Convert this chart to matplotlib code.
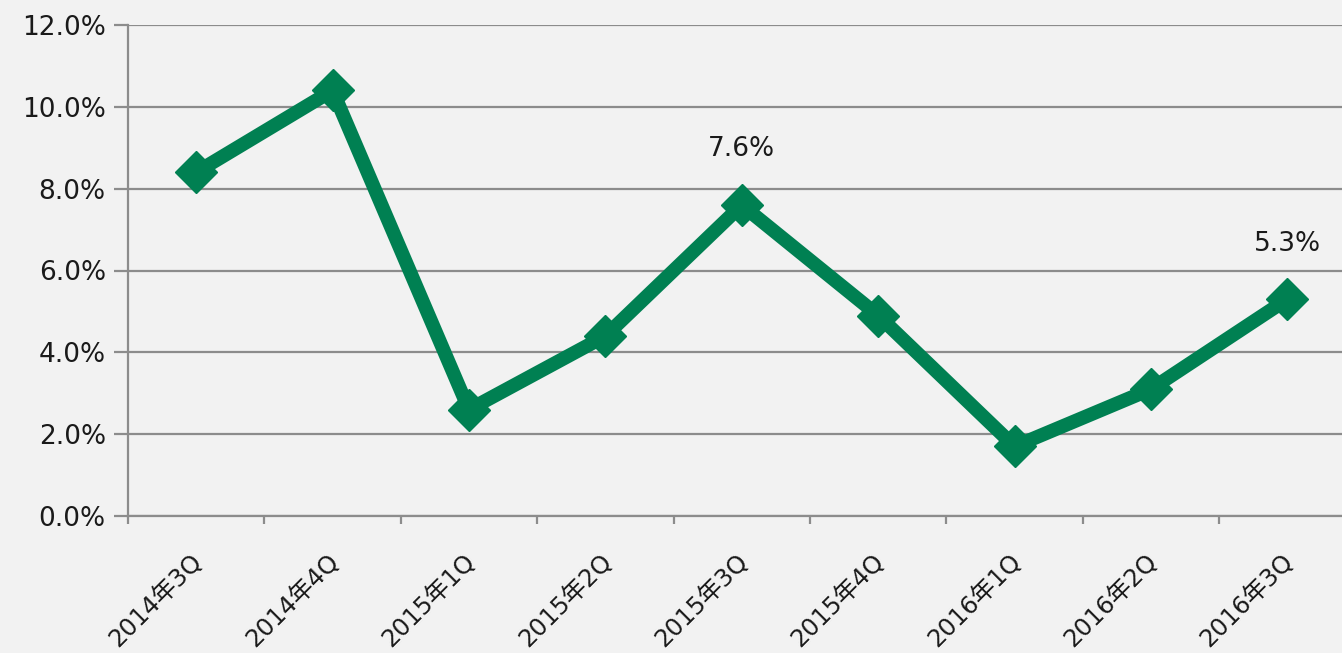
import matplotlib
matplotlib.use("Agg")
import matplotlib.pyplot as plt
import numpy as np
from matplotlib.ticker import FuncFormatter, FixedLocator
from matplotlib.transforms import ScaledTranslation

categories = ["2014年3Q", "2014年4Q", "2015年1Q", "2015年2Q", "2015年3Q",
              "2015年4Q", "2016年1Q", "2016年2Q", "2016年3Q"]
values = [8.4, 10.4, 2.6, 4.4, 7.6, 4.9, 1.7, 3.1, 5.3]
labeled = {4: "7.6%", 8: "5.3%"}

plt.rcParams['font.family'] = ['DejaVu Sans', 'Noto Sans CJK JP']

bg = '#f2f2f2'
green = '#008052'
grid = '#8c8c8c'

fig = plt.figure(figsize=(13.42, 6.53), dpi=100, facecolor=bg)
ax = fig.add_axes([128/1342, 137/653, 1227.6/1342, 491/653])
ax.set_facecolor(bg)

x = np.arange(len(categories))
ax.plot(x, values, color=green, lw=10, marker='D', markersize=21,
        solid_joinstyle='miter', zorder=3, clip_on=False)

for i, t in labeled.items():
    ax.annotate(t, (x[i], values[i]), xytext=(0, 40), textcoords='offset points',
                ha='center', va='center', fontsize=19, color='#1a1a1a')

ax.set_xlim(-0.5, len(categories) - 0.5)
ax.set_ylim(0, 12)
ax.yaxis.set_major_locator(FixedLocator(np.arange(0, 12.1, 2)))
ax.yaxis.set_major_formatter(FuncFormatter(lambda v, p: f"{v:.1f}%"))
ax.grid(axis='y', color=grid, lw=1.6)
ax.set_axisbelow(True)

ax.xaxis.set_major_locator(FixedLocator(np.arange(-0.5, len(categories), 1.0)))
ax.xaxis.set_major_formatter(FuncFormatter(lambda v, p: ""))
ax.xaxis.set_minor_locator(FixedLocator(x))
ax.set_xticklabels(categories, minor=True)
ax.tick_params(axis='x', which='major', length=6, width=1.6, color=grid, direction='out')
ax.tick_params(axis='x', which='minor', length=0, pad=24, labelsize=17.5, labelcolor='#1a1a1a')
shift = ScaledTranslation(-6/100, 0, fig.dpi_scale_trans)
for lab in ax.get_xticklabels(minor=True):
    lab.set_rotation(45)
    lab.set_ha('right')
    lab.set_rotation_mode('anchor')
    lab.set_transform(lab.get_transform() + shift)
ax.tick_params(axis='y', length=10, width=1.6, color=grid, labelsize=19, pad=6, labelcolor='#1a1a1a')

for s in ['top', 'right']:
    ax.spines[s].set_visible(False)
for s in ['left', 'bottom']:
    ax.spines[s].set_color(grid)
    ax.spines[s].set_linewidth(1.6)

fig.savefig("out.png", dpi=100, facecolor=bg)
